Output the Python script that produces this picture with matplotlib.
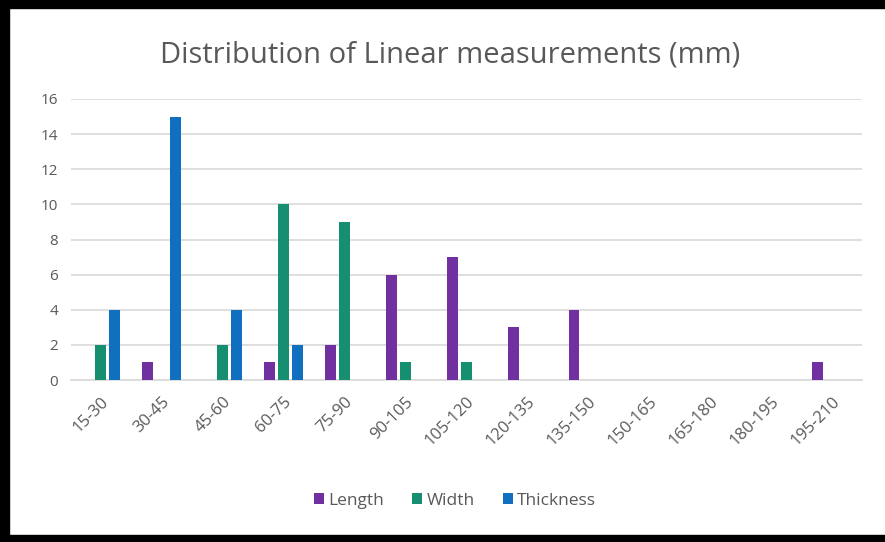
import numpy as np
import matplotlib
matplotlib.use("Agg")
import matplotlib.pyplot as plt
from matplotlib.patches import Rectangle

plt.rcParams['font.family'] = ['Open Sans', 'DejaVu Sans']

# size classes (mm) and counts per measurement
bins = ['15-30', '30-45', '45-60', '60-75', '75-90', '90-105', '105-120',
        '120-135', '135-150', '150-165', '165-180', '180-195', '195-210']
length = [0, 1, 0, 1, 2, 6, 7, 3, 4, 0, 0, 0, 1]
width = [2, 0, 2, 10, 9, 1, 1, 0, 0, 0, 0, 0, 0]
thickness = [4, 15, 4, 2, 0, 0, 0, 0, 0, 0, 0, 0, 0]

series = [('Length', length, '#7030A0'),
          ('Width', width, '#158F6F'),
          ('Thickness', thickness, '#116FC0')]

fig = plt.figure(figsize=(8.85, 5.42), dpi=100)
ax = fig.add_axes([70.5/885, 1 - 380/542, (862 - 70.5)/885, (380 - 99)/542])

x = np.arange(len(bins))
bw = 0.18
step = 0.23
for i, (name, vals, col) in enumerate(series):
    ax.bar(x + (i - 1)*step, vals, width=bw, color=col, label=name, zorder=3)

ax.set_xlim(-0.5, len(bins) - 0.5)
ax.set_ylim(0, 16)
ax.set_yticks(range(0, 17, 2))
ax.yaxis.grid(True, color='#D9D9D9', linewidth=1.2, zorder=0)
ax.set_axisbelow(True)
for s in ['top', 'right', 'left']:
    ax.spines[s].set_visible(False)
ax.spines['bottom'].set_color('#D9D9D9')
ax.spines['bottom'].set_linewidth(1.2)
ax.tick_params(axis='both', length=0, labelsize=11, labelcolor='#595959')
ax.tick_params(axis='y', pad=9)
ax.tick_params(axis='x', pad=10, labelsize=12)
ax.set_xticks(x)
ax.set_xticklabels(bins, rotation=45, ha='right', rotation_mode='anchor')

fig.text(0.509, 1 - 55/542, 'Distribution of Linear measurements (mm)',
         ha='center', va='center', fontsize=21, color='#595959')

fig.legend(loc='center', bbox_to_anchor=(455/885, 1 - 501/542), ncol=3,
           frameon=False, fontsize=12.5, labelcolor='#595959',
           handlelength=0.6, handleheight=0.6, handletextpad=0.25,
           columnspacing=1.6)

# black frame round the chart area
fig.patches.append(Rectangle((0, 0), 9/885, 1, transform=fig.transFigure,
                             color='black', zorder=10))
fig.patches.append(Rectangle((0, 1 - 8/542), 1, 8/542, transform=fig.transFigure,
                             color='black', zorder=10))
fig.patches.append(Rectangle((0, 0), 1, 7/542, transform=fig.transFigure,
                             color='black', zorder=10))

fig.savefig('out.png', dpi=100)
